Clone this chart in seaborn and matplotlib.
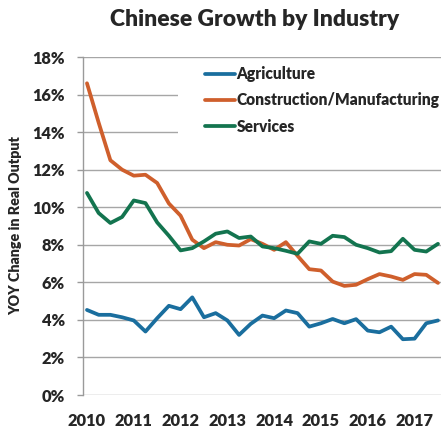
import matplotlib
matplotlib.use("Agg")
import matplotlib.pyplot as plt
import matplotlib.transforms as mtransforms
from matplotlib.patches import Rectangle
import seaborn as sns
import pandas as pd
import numpy as np

# Quarterly data, 2010Q1 .. 2017Q3
quarters = [f"{y}Q{q}" for y in range(2010, 2018) for q in range(1, 5)][:31]
agriculture = [4.53, 4.27, 4.27, 4.14, 3.97, 3.38, 4.09, 4.75, 4.57, 5.2,
               4.14, 4.36, 3.97, 3.2, 3.79, 4.23, 4.09, 4.5, 4.36, 3.64,
               3.82, 4.05, 3.82, 4.04, 3.43, 3.34, 3.64, 2.97, 3.0, 3.82, 3.97]
construction = [16.6, 14.5, 12.5, 12.0, 11.68, 11.73, 11.29, 10.2, 9.55, 8.27,
                7.82, 8.14, 8.0, 7.96, 8.3, 8.05, 7.73, 8.14, 7.41, 6.7,
                6.63, 6.04, 5.81, 5.87, 6.17, 6.44, 6.31, 6.13, 6.44, 6.4, 5.97]
services = [10.76, 9.69, 9.16, 9.48, 10.36, 10.22, 9.19, 8.48, 7.7, 7.82,
            8.18, 8.59, 8.71, 8.36, 8.44, 7.91, 7.82, 7.68, 7.52, 8.18,
            8.05, 8.48, 8.41, 8.0, 7.82, 7.59, 7.66, 8.32, 7.73, 7.64, 8.05]
series_names = ["Agriculture", "Construction/Manufacturing", "Services"]
colors = ["#1a6e9e", "#cf5f2c", "#13744f"]
year_labels = [str(y) for y in range(2010, 2018)]
y_ticks = list(range(0, 20, 2))

idx = np.arange(len(quarters))
df = pd.concat([
    pd.DataFrame({"idx": idx, "value": agriculture, "series": series_names[0]}),
    pd.DataFrame({"idx": idx, "value": construction, "series": series_names[1]}),
    pd.DataFrame({"idx": idx, "value": services, "series": series_names[2]}),
])

sns.set_style("white")
font = "Lato"
plt.rcParams["font.family"] = [font, "DejaVu Sans"]

W, H = 443, 428
fig = plt.figure(figsize=(W / 100, H / 100), dpi=100)
ax = fig.add_axes([83 / W, 1 - 395 / H, (441 - 83) / W, (395 - 57) / H])

sns.lineplot(data=df, x="idx", y="value", hue="series", hue_order=series_names,
             palette=colors, linewidth=2.7, ax=ax, legend=True, zorder=3)

ax.set_xlim(-0.34, 30.26)
ax.set_ylim(0, 18)
ax.set_yticks(y_ticks)
ax.set_yticklabels([f"{t}%" for t in y_ticks], fontsize=11.8, fontweight="heavy")
ax.set_xticks(list(range(0, 32, 4)))
ax.set_xticklabels(year_labels, fontsize=11.8, fontweight="heavy")
ax.tick_params(axis="y", length=4, color="#9a9a9a", width=1, pad=9, left=True)
ax.tick_params(axis="x", length=0, pad=13)

ax.grid(axis="y", color="#a6a6a6", linewidth=1)
ax.set_axisbelow(True)
for s in ["top", "right", "bottom"]:
    ax.spines[s].set_visible(False)
ax.spines["left"].set_color("#9a9a9a")
ax.spines["left"].set_linewidth(1)

ax.set_xlabel("")
ax.set_ylabel("YOY Change in Real Output", fontsize=10.3, fontweight="heavy", labelpad=7)

# white legend background covering grid lines
trans = mtransforms.blended_transform_factory(ax.transAxes, ax.transData)
ax.add_patch(Rectangle(((178 - 83) / 358, 13.4), 1.0, 4.35, transform=trans,
                       facecolor="white", edgecolor="none", zorder=1.5, clip_on=False))

leg = ax.legend(loc="upper left", bbox_to_anchor=(205 / W, 1 - 66 / H),
                bbox_transform=fig.transFigure, frameon=False,
                prop={"weight": "heavy", "size": 11.2}, handlelength=1.9,
                handletextpad=0.13, labelspacing=0.66, borderpad=0, borderaxespad=0)
for line in leg.get_lines():
    line.set_linewidth(2.7)

fig.text(255 / W, 1 - 20 / H, "Chinese Growth by Industry", ha="center", va="center",
         fontsize=16.5, fontweight="heavy")

fig.savefig("out.png", dpi=100)
